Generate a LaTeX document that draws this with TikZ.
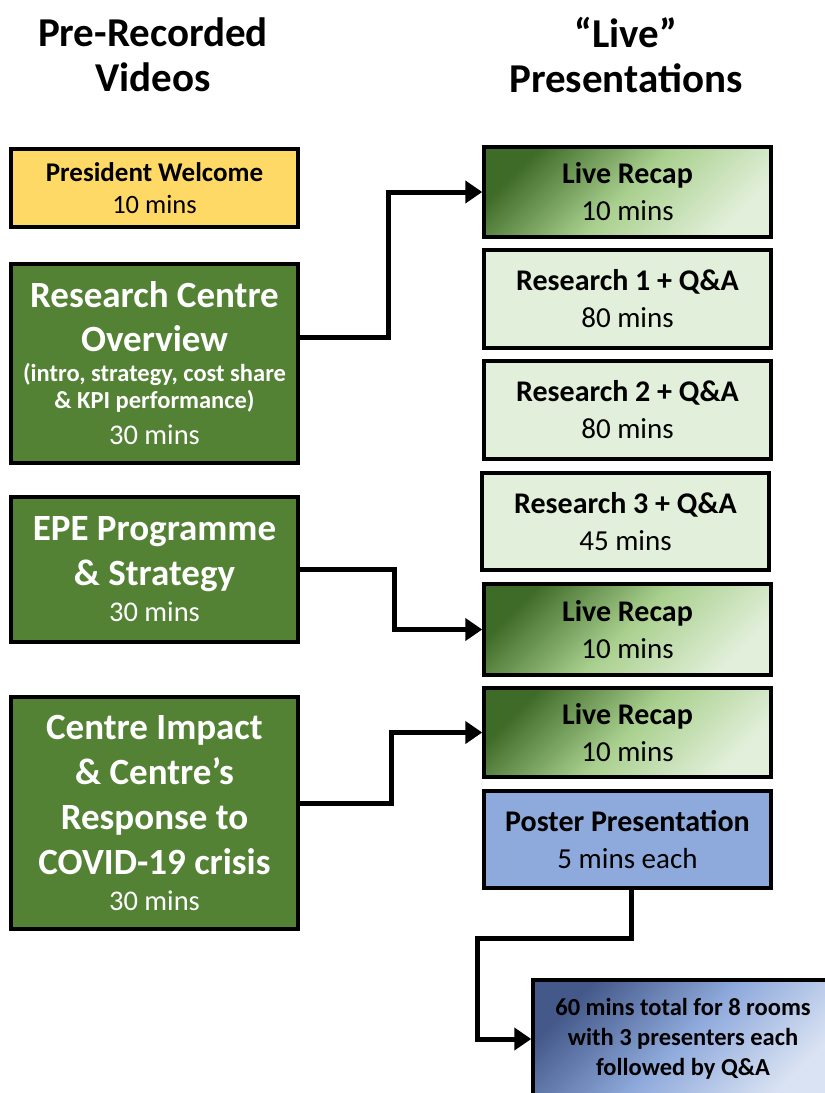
\documentclass[tikz,border=0pt]{standalone}
\usepackage{fontspec}
\setmainfont{Carlito}
\usetikzlibrary{arrows.meta}
\definecolor{gold}{HTML}{FFD966}
\definecolor{leaf}{HTML}{548235}
\definecolor{mint}{HTML}{E2EFDA}
\definecolor{sage}{HTML}{A9D08E}
\definecolor{moss}{HTML}{3F6B29}
\definecolor{sky}{HTML}{8EA9DB}
\definecolor{navy}{HTML}{44598A}
\definecolor{ice}{HTML}{DAE3F3}
\newcommand{\colhd}{\fontsize{41}{45}\selectfont\bfseries}
\newcommand{\vidbig}{\fontsize{37}{45}\selectfont\bfseries}
\newcommand{\vidsub}{\fontsize{24.5}{29}\selectfont\bfseries}
\newcommand{\vidmin}{\fontsize{28.5}{33}\selectfont\mdseries}
\newcommand{\livehd}{\fontsize{30}{37}\selectfont\bfseries}
\newcommand{\livemin}{\fontsize{29}{37}\selectfont\mdseries}
\begin{document}
\begin{tikzpicture}[x=1pt,y=-1pt,
  box/.style={draw=black, line width=3.5pt, minimum width=287pt, align=center, inner sep=0pt},
  vid/.style={box, fill=leaf, text=white, font=\vidbig},
  live/.style={box, font=\livehd},
  recap/.style={live, top color=moss, bottom color=mint, middle color=sage, shading angle=45},
  talk/.style={live, fill=mint},
  link/.style={line width=5pt, -{Triangle[length=17pt,width=22pt]}}]
\useasboundingbox (0,0) rectangle (825,1093);
% column heads
\node[align=center, font=\colhd] (hvid) at (153,55){Pre-Recorded\\ Videos};
\node[align=center, font=\colhd] (hlive) at (626,55){``Live''\\ Presentations};
% pre-recorded videos
\node[box, fill=gold, minimum height=78pt, font=\fontsize{27}{32}\selectfont\bfseries] (pw) at (154.5,188){President Welcome\\ \fontsize{26.5}{32}\selectfont\mdseries 10 mins};
\node[vid, minimum height=199pt] (rco) at (154.5,363.5){Research Centre\\[-1pt] Overview\\[-15pt] \vidsub (intro, strategy, cost share\\[-18pt] \vidsub \& KPI performance)\\[-9pt] \vidmin 30 mins};
\node[vid, minimum height=145pt] (epe) at (154.5,569.5){EPE Programme\\ \& Strategy\\[-9pt] \vidmin 30 mins};
\node[vid, minimum height=232pt] (cim) at (154.5,813){Centre Impact\\ \& Centre’s\\ Response to\\ COVID-19 crisis\\[-9pt] \vidmin 30 mins};
% live presentations
\node[recap, minimum height=90pt] (lr1) at (627.5,192){Live Recap\\ \livemin 10 mins};
\node[talk, minimum height=98pt] (r1) at (627.5,299){Research 1 + Q\&A\\ \livemin 80 mins};
\node[talk, minimum height=98pt] (r2) at (627.5,410){Research 2 + Q\&A\\ \livemin 80 mins};
\node[talk, minimum height=97pt] (r3) at (625.5,521.5){Research 3 + Q\&A\\ \livemin 45 mins};
\node[recap, minimum height=91pt] (lr2) at (627.5,629.5){Live Recap\\ \livemin 10 mins};
\node[recap, minimum height=89pt] (lr3) at (627.5,732.5){Live Recap\\ \livemin 10 mins};
\node[live, fill=sky, minimum height=97pt] (pp) at (627.5,839.5){Poster Presentation\\ \livemin 5 mins each};
\node[box, top color=navy, bottom color=ice, middle color=sky, shading angle=45, minimum width=300pt, minimum height=118pt, font=\fontsize{24.5}{30}\selectfont\bfseries] (tot) at (683,1039){60 mins total for 8 rooms\\ with 3 presenters each\\ followed by Q\&A};
% connectors
\draw[link] ([yshift=26pt]rco.east) -- ++(89,0) |- (lr1.west);
\draw[link] (epe.east) -- ++(95,0) |- (lr2.west);
\draw[link] ([yshift=10pt]cim.east) -- ++(92,0) |- (lr3.west);
\draw[link] ([xshift=3.5pt]pp.south) -- ++(0,49) -| ([xshift=-54pt]tot.west) -- (tot.west);
\end{tikzpicture}
\end{document}
